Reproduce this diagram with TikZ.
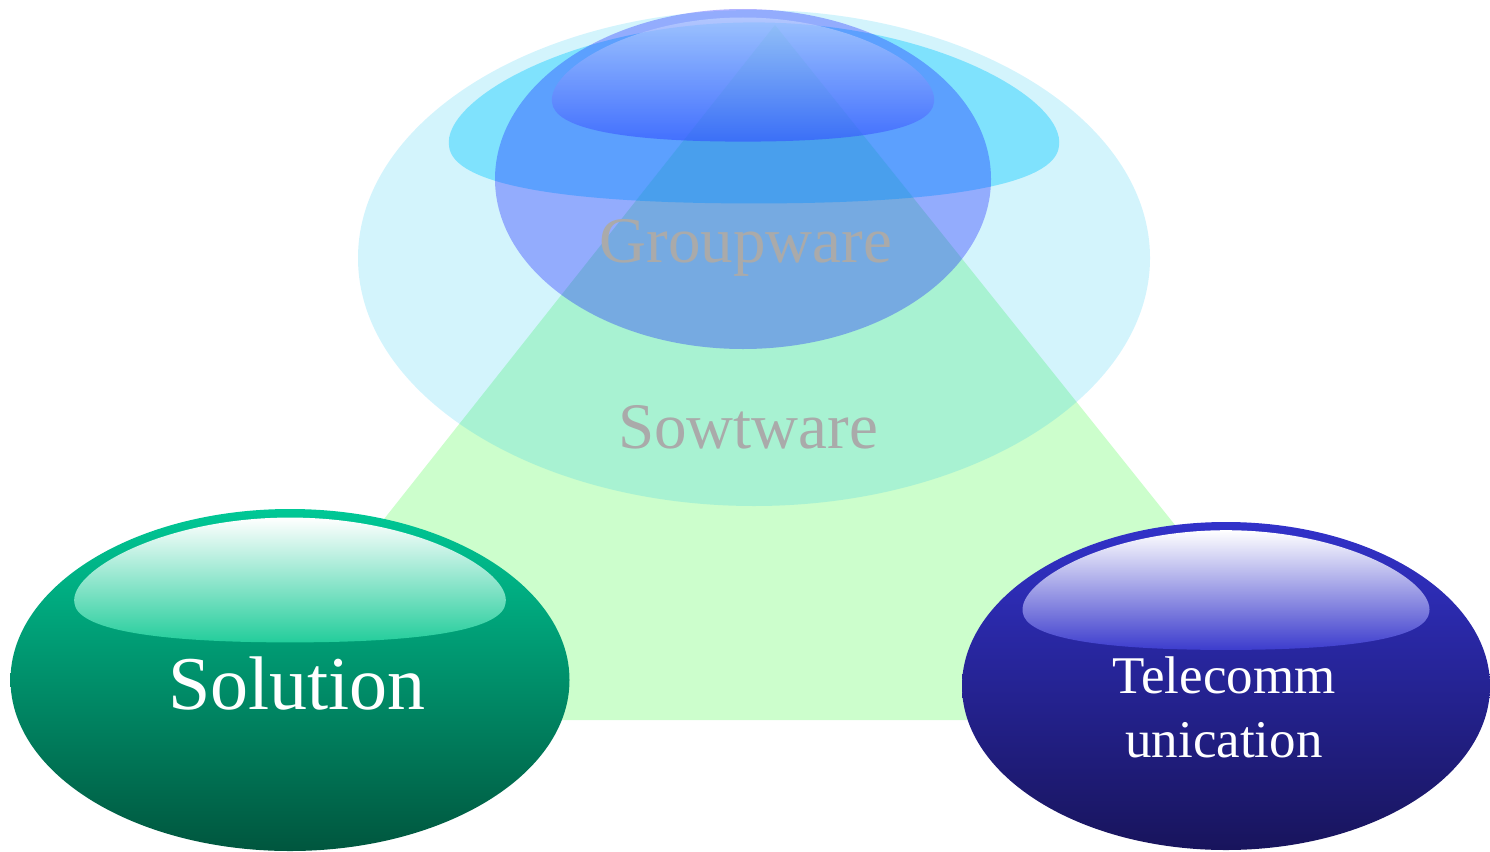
\documentclass[tikz,border=0pt]{standalone}
\usepackage{fontspec}
\setmainfont{Liberation Serif}
\usetikzlibrary{shapes.geometric}

\definecolor{trifill}{RGB}{204,254,204}
\definecolor{skycyan}{RGB}{0,190,240}
\definecolor{bandcyan}{RGB}{0,200,255}
\definecolor{groupblue}{RGB}{20,28,255}
\definecolor{hiblueTop}{RGB}{200,218,255}
\definecolor{hiblueBot}{RGB}{50,80,255}
\definecolor{solTop}{RGB}{0,200,150}
\definecolor{solBot}{RGB}{0,86,62}
\definecolor{solHi}{RGB}{35,205,155}
\definecolor{telTop}{RGB}{50,50,202}
\definecolor{telBot}{RGB}{24,20,92}
\definecolor{telHi}{RGB}{60,60,205}
\definecolor{labelgray}{RGB}{170,170,170}

% glossy cap drawn on the upper part of an ellipse
% #1 centre, #2 x radius, #3 y radius, #4 path style
\newcommand\glosscap[4]{%
  \begin{scope}[shift={#1}, x=#2pt, y=#3pt]
    \path[#4] (-0.77,0.45)
      .. controls (-0.79,0.64) and (-0.45,0.95) .. (0,0.95)
      .. controls (0.45,0.95) and (0.79,0.64) .. (0.77,0.45)
      .. controls (0.76,0.30) and (0.50,0.22) .. (0,0.22)
      .. controls (-0.50,0.22) and (-0.76,0.30) .. cycle;
  \end{scope}}

\tikzset{
  blob/.style={ellipse, inner sep=0pt, outer sep=0pt, draw=none},
  lbl/.style={anchor=base, inner sep=0pt},
}

\begin{document}
\begin{tikzpicture}[x=1pt, y=1pt]
  \useasboundingbox (0,0) rectangle (1490,-851);

  % green triangle behind everything
  \coordinate (apex) at (775,-25);
  \coordinate (left) at (225,-720);
  \coordinate (right) at (1331,-720);
  \fill[trifill] (apex) -- (left) -- (right) -- cycle;

  % large pale ellipse with its cyan cap
  \node[blob, minimum width=792pt, minimum height=496pt,
        fill=skycyan, fill opacity=0.173] (soft) at (754,-258) {};
  \glosscap{(soft.center)}{396}{248}{fill=bandcyan, fill opacity=0.4}

  % blue ellipse with its cap
  \node[blob, minimum width=496pt, minimum height=340pt,
        fill=groupblue, fill opacity=0.333] (group) at (743,-179) {};
  \glosscap{(group.center)}{248}{170}{top color=hiblueTop, bottom color=hiblueBot, fill opacity=0.6}

  \node[lbl, text=labelgray, font=\fontsize{65}{78}\selectfont] (grouplabel) at (746,-262) {Groupware};
  \node[lbl, text=labelgray, font=\fontsize{65}{78}\selectfont] (softlabel) at (748,-448) {Sowtware};

  % green ellipse
  \node[blob, minimum width=559pt, minimum height=342pt,
        top color=solTop, bottom color=solBot] (sol) at (290,-680) {};
  \glosscap{(sol.center)}{280}{171}{top color=white, bottom color=solHi}
  \node[lbl, text=white, font=\fontsize{76}{90}\selectfont] (sollabel) at (297,-709) {Solution};

  % dark blue ellipse
  \node[blob, minimum width=528pt, minimum height=328pt,
        top color=telTop, bottom color=telBot] (tel) at (1226,-686) {};
  \glosscap{(tel.center)}{264}{164}{top color=white, bottom color=telHi}
  \node[inner sep=0pt, align=center, text=white, font=\fontsize{53}{64}\selectfont]
        (tellabel) at (1224,-707) {Telecomm\\unication};
\end{tikzpicture}
\end{document}
